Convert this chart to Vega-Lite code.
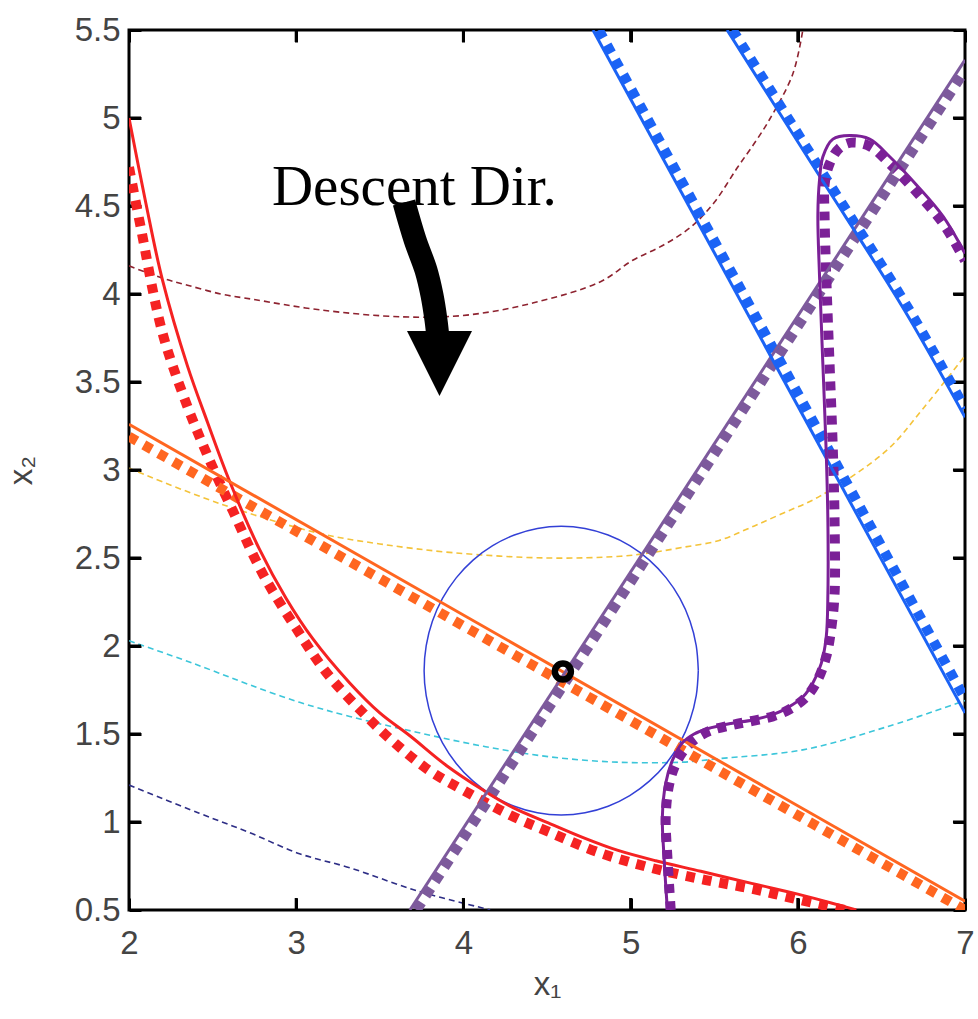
{
  "$schema": "https://vega.github.io/schema/vega-lite/v6.json",
  "width": 836,
  "height": 880,
  "autosize": {"type": "none"},
  "padding": {"left": 129, "top": 30, "right": 13, "bottom": 109},
  "background": "white",
  "datasets": {
    "curves": [
      {"g":"c1","k":"c","i":0,"x":2.0,"y":4.16},{"g":"c1","k":"c","i":1,"x":2.2,"y":4.09},{"g":"c1","k":"c","i":2,"x":2.35,"y":4.05},{"g":"c1","k":"c","i":3,"x":2.55,"y":4.0},{"g":"c1","k":"c","i":4,"x":2.74,"y":3.97},{"g":"c1","k":"c","i":5,"x":3.14,"y":3.91},{"g":"c1","k":"c","i":6,"x":3.64,"y":3.87},{"g":"c1","k":"c","i":7,"x":4.02,"y":3.88},{"g":"c1","k":"c","i":8,"x":4.42,"y":3.95},{"g":"c1","k":"c","i":9,"x":4.82,"y":4.07},{"g":"c1","k":"c","i":10,"x":5.01,"y":4.19},{"g":"c1","k":"c","i":11,"x":5.2,"y":4.28},{"g":"c1","k":"c","i":12,"x":5.36,"y":4.38},{"g":"c1","k":"c","i":13,"x":5.5,"y":4.52},{"g":"c1","k":"c","i":14,"x":5.64,"y":4.72},{"g":"c1","k":"c","i":15,"x":5.75,"y":4.87},{"g":"c1","k":"c","i":16,"x":5.83,"y":4.99},{"g":"c1","k":"c","i":17,"x":5.97,"y":5.25},{"g":"c1","k":"c","i":18,"x":6.03,"y":5.5},
      {"g":"c2","k":"c","i":0,"x":2.0,"y":3.01},{"g":"c2","k":"c","i":1,"x":2.54,"y":2.81},{"g":"c2","k":"c","i":2,"x":3.14,"y":2.64},{"g":"c2","k":"c","i":3,"x":3.5,"y":2.58},{"g":"c2","k":"c","i":4,"x":3.94,"y":2.53},{"g":"c2","k":"c","i":5,"x":4.5,"y":2.5},{"g":"c2","k":"c","i":6,"x":4.94,"y":2.51},{"g":"c2","k":"c","i":7,"x":5.12,"y":2.53},{"g":"c2","k":"c","i":8,"x":5.31,"y":2.56},{"g":"c2","k":"c","i":9,"x":5.53,"y":2.6},{"g":"c2","k":"c","i":10,"x":5.71,"y":2.67},{"g":"c2","k":"c","i":11,"x":5.9,"y":2.75},{"g":"c2","k":"c","i":12,"x":6.13,"y":2.85},{"g":"c2","k":"c","i":13,"x":6.53,"y":3.11},{"g":"c2","k":"c","i":14,"x":6.75,"y":3.35},{"g":"c2","k":"c","i":15,"x":7.0,"y":3.65},
      {"g":"c3","k":"c","i":0,"x":2.0,"y":2.03},{"g":"c3","k":"c","i":1,"x":2.3,"y":1.93},{"g":"c3","k":"c","i":2,"x":2.5,"y":1.86},{"g":"c3","k":"c","i":3,"x":2.72,"y":1.78},{"g":"c3","k":"c","i":4,"x":3.02,"y":1.68},{"g":"c3","k":"c","i":5,"x":3.32,"y":1.6},{"g":"c3","k":"c","i":6,"x":3.72,"y":1.51},{"g":"c3","k":"c","i":7,"x":4.12,"y":1.43},{"g":"c3","k":"c","i":8,"x":4.52,"y":1.37},{"g":"c3","k":"c","i":9,"x":4.92,"y":1.34},{"g":"c3","k":"c","i":10,"x":5.31,"y":1.34},{"g":"c3","k":"c","i":11,"x":5.53,"y":1.36},{"g":"c3","k":"c","i":12,"x":6.03,"y":1.41},{"g":"c3","k":"c","i":13,"x":6.53,"y":1.54},{"g":"c3","k":"c","i":14,"x":7.0,"y":1.69},
      {"g":"c4","k":"c","i":0,"x":2.0,"y":1.21},{"g":"c4","k":"c","i":1,"x":2.42,"y":1.05},{"g":"c4","k":"c","i":2,"x":2.72,"y":0.94},{"g":"c4","k":"c","i":3,"x":3.02,"y":0.82},{"g":"c4","k":"c","i":4,"x":3.32,"y":0.74},{"g":"c4","k":"c","i":5,"x":3.72,"y":0.61},{"g":"c4","k":"c","i":6,"x":4.12,"y":0.51},{"g":"c4","k":"c","i":7,"x":4.16,"y":0.5},
      {"g":"tr","k":"r","i":0,"x":5.405,"y":1.86},{"g":"tr","k":"r","i":1,"x":5.3925,"y":2.0024},{"g":"tr","k":"r","i":2,"x":5.3555,"y":2.1405},{"g":"tr","k":"r","i":3,"x":5.2951,"y":2.27},{"g":"tr","k":"r","i":4,"x":5.2131,"y":2.3871},{"g":"tr","k":"r","i":5,"x":5.1121,"y":2.4881},{"g":"tr","k":"r","i":6,"x":4.995,"y":2.5701},{"g":"tr","k":"r","i":7,"x":4.8655,"y":2.6305},{"g":"tr","k":"r","i":8,"x":4.7274,"y":2.6675},{"g":"tr","k":"r","i":9,"x":4.585,"y":2.68},{"g":"tr","k":"r","i":10,"x":4.4426,"y":2.6675},{"g":"tr","k":"r","i":11,"x":4.3045,"y":2.6305},{"g":"tr","k":"r","i":12,"x":4.175,"y":2.5701},{"g":"tr","k":"r","i":13,"x":4.0579,"y":2.4881},{"g":"tr","k":"r","i":14,"x":3.9569,"y":2.3871},{"g":"tr","k":"r","i":15,"x":3.8749,"y":2.27},{"g":"tr","k":"r","i":16,"x":3.8145,"y":2.1405},{"g":"tr","k":"r","i":17,"x":3.7775,"y":2.0024},{"g":"tr","k":"r","i":18,"x":3.765,"y":1.86},{"g":"tr","k":"r","i":19,"x":3.7775,"y":1.7176},{"g":"tr","k":"r","i":20,"x":3.8145,"y":1.5795},{"g":"tr","k":"r","i":21,"x":3.8749,"y":1.45},{"g":"tr","k":"r","i":22,"x":3.9569,"y":1.3329},{"g":"tr","k":"r","i":23,"x":4.0579,"y":1.2319},{"g":"tr","k":"r","i":24,"x":4.175,"y":1.1499},{"g":"tr","k":"r","i":25,"x":4.3045,"y":1.0895},{"g":"tr","k":"r","i":26,"x":4.4426,"y":1.0525},{"g":"tr","k":"r","i":27,"x":4.585,"y":1.04},{"g":"tr","k":"r","i":28,"x":4.7274,"y":1.0525},{"g":"tr","k":"r","i":29,"x":4.8655,"y":1.0895},{"g":"tr","k":"r","i":30,"x":4.995,"y":1.1499},{"g":"tr","k":"r","i":31,"x":5.1121,"y":1.2319},{"g":"tr","k":"r","i":32,"x":5.2131,"y":1.3329},{"g":"tr","k":"r","i":33,"x":5.2951,"y":1.45},{"g":"tr","k":"r","i":34,"x":5.3555,"y":1.5795},{"g":"tr","k":"r","i":35,"x":5.3925,"y":1.7176},{"g":"tr","k":"r","i":36,"x":5.405,"y":1.86},
      {"g":"g1","k":"a","i":0,"x":2.0,"y":4.72},{"g":"g1","k":"a","i":1,"x":2.07,"y":4.38},{"g":"g1","k":"a","i":2,"x":2.2,"y":3.78},{"g":"g1","k":"a","i":3,"x":2.35,"y":3.36},{"g":"g1","k":"a","i":4,"x":2.48,"y":3.06},{"g":"g1","k":"a","i":5,"x":2.62,"y":2.77},{"g":"g1","k":"a","i":6,"x":2.8,"y":2.41},{"g":"g1","k":"a","i":7,"x":3.0,"y":2.1},{"g":"g1","k":"a","i":8,"x":3.18,"y":1.85},{"g":"g1","k":"a","i":9,"x":3.4,"y":1.62},{"g":"g1","k":"a","i":10,"x":3.6,"y":1.44},{"g":"g1","k":"a","i":11,"x":3.8,"y":1.29},{"g":"g1","k":"a","i":12,"x":4.0,"y":1.18},{"g":"g1","k":"a","i":13,"x":4.3,"y":1.03},{"g":"g1","k":"a","i":14,"x":4.52,"y":0.94},{"g":"g1","k":"a","i":15,"x":4.8,"y":0.83},{"g":"g1","k":"a","i":16,"x":5.12,"y":0.74},{"g":"g1","k":"a","i":17,"x":5.45,"y":0.67},{"g":"g1","k":"a","i":18,"x":5.73,"y":0.62},{"g":"g1","k":"a","i":19,"x":6.0,"y":0.56},{"g":"g1","k":"a","i":20,"x":6.28,"y":0.5},
      {"g":"g2","k":"a","i":0,"x":2.0,"y":3.19},{"g":"g2","k":"a","i":1,"x":7.0,"y":0.5},
      {"g":"g3","k":"a","i":0,"x":3.72,"y":0.5},{"g":"g3","k":"a","i":1,"x":7.0,"y":5.27},
      {"g":"g4","k":"a","i":0,"x":4.81,"y":5.5},{"g":"g4","k":"a","i":1,"x":7.0,"y":1.7},
      {"g":"g5","k":"a","i":0,"x":5.61,"y":5.5},{"g":"g5","k":"a","i":1,"x":6.14,"y":4.7},{"g":"g5","k":"a","i":2,"x":6.66,"y":3.92},{"g":"g5","k":"a","i":3,"x":7.0,"y":3.35},
      {"g":"g6","k":"a","i":0,"x":5.24,"y":0.5},{"g":"g6","k":"a","i":1,"x":5.22,"y":0.8},{"g":"g6","k":"a","i":2,"x":5.21,"y":1.03},{"g":"g6","k":"a","i":3,"x":5.23,"y":1.21},{"g":"g6","k":"a","i":4,"x":5.27,"y":1.33},{"g":"g6","k":"a","i":5,"x":5.33,"y":1.42},{"g":"g6","k":"a","i":6,"x":5.4,"y":1.48},{"g":"g6","k":"a","i":7,"x":5.48,"y":1.52},{"g":"g6","k":"a","i":8,"x":5.6,"y":1.55},{"g":"g6","k":"a","i":9,"x":5.73,"y":1.575},{"g":"g6","k":"a","i":10,"x":5.85,"y":1.6},{"g":"g6","k":"a","i":11,"x":5.95,"y":1.64},{"g":"g6","k":"a","i":12,"x":6.05,"y":1.71},{"g":"g6","k":"a","i":13,"x":6.12,"y":1.81},{"g":"g6","k":"a","i":14,"x":6.17,"y":1.94},{"g":"g6","k":"a","i":15,"x":6.2,"y":2.1},{"g":"g6","k":"a","i":16,"x":6.22,"y":2.3},{"g":"g6","k":"a","i":17,"x":6.22,"y":2.7},{"g":"g6","k":"a","i":18,"x":6.21,"y":3.1},{"g":"g6","k":"a","i":19,"x":6.19,"y":3.6},{"g":"g6","k":"a","i":20,"x":6.17,"y":4.1},{"g":"g6","k":"a","i":21,"x":6.16,"y":4.45},{"g":"g6","k":"a","i":22,"x":6.16,"y":4.62},{"g":"g6","k":"a","i":23,"x":6.19,"y":4.74},{"g":"g6","k":"a","i":24,"x":6.25,"y":4.83},{"g":"g6","k":"a","i":25,"x":6.32,"y":4.86},{"g":"g6","k":"a","i":26,"x":6.43,"y":4.84},{"g":"g6","k":"a","i":27,"x":6.55,"y":4.74},{"g":"g6","k":"a","i":28,"x":6.71,"y":4.58},{"g":"g6","k":"a","i":29,"x":6.87,"y":4.4},{"g":"g6","k":"a","i":30,"x":7.0,"y":4.19},
      {"g":"g1","k":"e","i":0,"x":2.0,"y":5.0},{"g":"g1","k":"e","i":1,"x":2.1,"y":4.52},{"g":"g1","k":"e","i":2,"x":2.2,"y":4.08},{"g":"g1","k":"e","i":3,"x":2.35,"y":3.59},{"g":"g1","k":"e","i":4,"x":2.47,"y":3.27},{"g":"g1","k":"e","i":5,"x":2.6,"y":2.94},{"g":"g1","k":"e","i":6,"x":2.78,"y":2.55},{"g":"g1","k":"e","i":7,"x":2.94,"y":2.27},{"g":"g1","k":"e","i":8,"x":3.1,"y":2.04},{"g":"g1","k":"e","i":9,"x":3.32,"y":1.79},{"g":"g1","k":"e","i":10,"x":3.5,"y":1.62},{"g":"g1","k":"e","i":11,"x":3.68,"y":1.49},{"g":"g1","k":"e","i":12,"x":3.9,"y":1.32},{"g":"g1","k":"e","i":13,"x":4.12,"y":1.18},{"g":"g1","k":"e","i":14,"x":4.3,"y":1.08},{"g":"g1","k":"e","i":15,"x":4.52,"y":0.99},{"g":"g1","k":"e","i":16,"x":4.72,"y":0.91},{"g":"g1","k":"e","i":17,"x":4.92,"y":0.84},{"g":"g1","k":"e","i":18,"x":5.15,"y":0.78},{"g":"g1","k":"e","i":19,"x":5.42,"y":0.72},{"g":"g1","k":"e","i":20,"x":5.73,"y":0.65},{"g":"g1","k":"e","i":21,"x":6.0,"y":0.59},{"g":"g1","k":"e","i":22,"x":6.2,"y":0.54},{"g":"g1","k":"e","i":23,"x":6.35,"y":0.5},
      {"g":"g2","k":"e","i":0,"x":2.0,"y":3.26},{"g":"g2","k":"e","i":1,"x":7.0,"y":0.55},
      {"g":"g3","k":"e","i":0,"x":3.68,"y":0.5},{"g":"g3","k":"e","i":1,"x":7.0,"y":5.33},
      {"g":"g4","k":"e","i":0,"x":4.775,"y":5.5},{"g":"g4","k":"e","i":1,"x":7.0,"y":1.62},
      {"g":"g5","k":"e","i":0,"x":5.577,"y":5.5},{"g":"g5","k":"e","i":1,"x":6.11,"y":4.7},{"g":"g5","k":"e","i":2,"x":6.63,"y":3.92},{"g":"g5","k":"e","i":3,"x":7.0,"y":3.3},
      {"g":"g6","k":"e","i":0,"x":5.22,"y":0.5},{"g":"g6","k":"e","i":1,"x":5.2,"y":0.8},{"g":"g6","k":"e","i":2,"x":5.19,"y":1.03},{"g":"g6","k":"e","i":3,"x":5.21,"y":1.22},{"g":"g6","k":"e","i":4,"x":5.25,"y":1.35},{"g":"g6","k":"e","i":5,"x":5.31,"y":1.45},{"g":"g6","k":"e","i":6,"x":5.38,"y":1.5},{"g":"g6","k":"e","i":7,"x":5.46,"y":1.53},{"g":"g6","k":"e","i":8,"x":5.6,"y":1.56},{"g":"g6","k":"e","i":9,"x":5.73,"y":1.58},{"g":"g6","k":"e","i":10,"x":5.85,"y":1.61},{"g":"g6","k":"e","i":11,"x":5.94,"y":1.65},{"g":"g6","k":"e","i":12,"x":6.03,"y":1.71},{"g":"g6","k":"e","i":13,"x":6.09,"y":1.79},{"g":"g6","k":"e","i":14,"x":6.14,"y":1.9},{"g":"g6","k":"e","i":15,"x":6.17,"y":2.05},{"g":"g6","k":"e","i":16,"x":6.18,"y":2.3},{"g":"g6","k":"e","i":17,"x":6.18,"y":2.7},{"g":"g6","k":"e","i":18,"x":6.17,"y":3.1},{"g":"g6","k":"e","i":19,"x":6.15,"y":3.6},{"g":"g6","k":"e","i":20,"x":6.13,"y":4.1},{"g":"g6","k":"e","i":21,"x":6.12,"y":4.45},{"g":"g6","k":"e","i":22,"x":6.13,"y":4.65},{"g":"g6","k":"e","i":23,"x":6.15,"y":4.78},{"g":"g6","k":"e","i":24,"x":6.21,"y":4.88},{"g":"g6","k":"e","i":25,"x":6.31,"y":4.9},{"g":"g6","k":"e","i":26,"x":6.43,"y":4.88},{"g":"g6","k":"e","i":27,"x":6.55,"y":4.78},{"g":"g6","k":"e","i":28,"x":6.71,"y":4.62},{"g":"g6","k":"e","i":29,"x":6.87,"y":4.44},{"g":"g6","k":"e","i":30,"x":7.0,"y":4.23}
    ],
    "shaft": [
      {"i":0,"x":3.645,"y":4.52},{"i":1,"x":3.711,"y":4.307},{"i":2,"x":3.776,"y":4.136},{"i":3,"x":3.812,"y":3.994},{"i":4,"x":3.836,"y":3.852},{"i":5,"x":3.848,"y":3.75}
    ],
    "head": [{"x":3.857,"y":3.605}],
    "label": [{"x":2.855,"y":4.506,"text":"Descent Dir."}],
    "iterate": [{"x":4.595,"y":1.855}],
    "xticks": [{"v":3},{"v":4},{"v":5},{"v":6}],
    "yticks": [{"v":1},{"v":1.5},{"v":2},{"v":2.5},{"v":3},{"v":3.5},{"v":4},{"v":4.5},{"v":5}]
  },
  "layer": [
    {
      "data": {"name": "curves"},
      "transform": [{"filter": "datum.k === 'c'"}],
      "mark": {"type": "line", "strokeWidth": 1.6, "strokeDash": [6, 4], "interpolate": "catmull-rom", "clip": true},
      "encoding": {
        "x": {"field": "x", "type": "quantitative", "scale": {"domain": [2, 7], "nice": false, "zero": false},
          "axis": {"orient": "bottom", "values": [2, 3, 4, 5, 6, 7], "ticks": true, "tickColor": "#000", "tickSize": -12, "labelPadding": 29, "labelFlush": false, "title": "x₁", "titlePadding": 8}},
        "y": {"field": "y", "type": "quantitative", "scale": {"domain": [0.5, 5.5], "nice": false, "zero": false},
          "axis": {"orient": "left", "values": [0.5, 1, 1.5, 2, 2.5, 3, 3.5, 4, 4.5, 5, 5.5], "format": "~g", "ticks": true, "tickColor": "#000", "tickSize": -12, "labelPadding": 21, "labelFlush": false, "title": "x₂", "titlePadding": 36}},
        "color": {"field": "g", "type": "nominal", "legend": null,
          "scale": {"domain": ["c1", "c2", "c3", "c4", "tr", "g1", "g2", "g3", "g4", "g5", "g6"],
                    "range": ["#8e2330", "#f4c33a", "#3cc6da", "#2e2e86", "#3340d6", "#f52222", "#ff6620", "#7d5a9c", "#1b63f5", "#1b63f5", "#7b2097"]}},
        "order": {"field": "i", "type": "quantitative"}
      }
    },
    {
      "data": {"name": "curves"},
      "transform": [{"filter": "datum.k === 'r'"}],
      "mark": {"type": "line", "strokeWidth": 1.5, "interpolate": "catmull-rom", "clip": true},
      "encoding": {
        "x": {"field": "x", "type": "quantitative", "scale": {"domain": [2, 7], "nice": false, "zero": false},
          "axis": {"orient": "top", "values": [2, 3, 4, 5, 6, 7], "ticks": true, "tickColor": "#000", "tickSize": -12, "labels": false, "title": null}},
        "y": {"field": "y", "type": "quantitative", "scale": {"domain": [0.5, 5.5], "nice": false, "zero": false},
          "axis": {"orient": "right", "values": [0.5, 1, 1.5, 2, 2.5, 3, 3.5, 4, 4.5, 5, 5.5], "ticks": true, "tickColor": "#000", "tickSize": -12, "labels": false, "title": null}},
        "color": {"field": "g", "type": "nominal", "legend": null},
        "order": {"field": "i", "type": "quantitative"}
      }
    },
    {
      "data": {"name": "xticks"},
      "mark": {"type": "rule", "color": "#000", "strokeWidth": 3},
      "encoding": {
        "x": {"field": "v", "type": "quantitative", "scale": {"domain": [2, 7], "nice": false, "zero": false}, "axis": null},
        "y": {"datum": 0.5, "type": "quantitative", "scale": {"domain": [0.5, 5.5], "nice": false, "zero": false}, "axis": null},
        "y2": {"datum": 0.568}
      }
    },
    {
      "data": {"name": "xticks"},
      "mark": {"type": "rule", "color": "#000", "strokeWidth": 3},
      "encoding": {
        "x": {"field": "v", "type": "quantitative", "scale": {"domain": [2, 7], "nice": false, "zero": false}, "axis": null},
        "y": {"datum": 5.5, "type": "quantitative", "scale": {"domain": [0.5, 5.5], "nice": false, "zero": false}, "axis": null},
        "y2": {"datum": 5.432}
      }
    },
    {
      "data": {"name": "yticks"},
      "mark": {"type": "rule", "color": "#000", "strokeWidth": 3},
      "encoding": {
        "y": {"field": "v", "type": "quantitative", "scale": {"domain": [0.5, 5.5], "nice": false, "zero": false}, "axis": null},
        "x": {"datum": 2, "type": "quantitative", "scale": {"domain": [2, 7], "nice": false, "zero": false}, "axis": null},
        "x2": {"datum": 2.072}
      }
    },
    {
      "data": {"name": "yticks"},
      "mark": {"type": "rule", "color": "#000", "strokeWidth": 3},
      "encoding": {
        "y": {"field": "v", "type": "quantitative", "scale": {"domain": [0.5, 5.5], "nice": false, "zero": false}, "axis": null},
        "x": {"datum": 7, "type": "quantitative", "scale": {"domain": [2, 7], "nice": false, "zero": false}, "axis": null},
        "x2": {"datum": 6.928}
      }
    },
    {
      "data": {"name": "curves"},
      "transform": [{"filter": "datum.k === 'a'"}],
      "mark": {"type": "line", "strokeWidth": 10, "strokeDash": [9, 8], "strokeCap": "butt", "interpolate": "catmull-rom", "clip": true},
      "encoding": {
        "x": {"field": "x", "type": "quantitative", "scale": {"domain": [2, 7], "nice": false, "zero": false}, "axis": null},
        "y": {"field": "y", "type": "quantitative", "scale": {"domain": [0.5, 5.5], "nice": false, "zero": false}, "axis": null},
        "color": {"field": "g", "type": "nominal", "legend": null},
        "order": {"field": "i", "type": "quantitative"}
      }
    },
    {
      "data": {"name": "curves"},
      "transform": [{"filter": "datum.k === 'e'"}],
      "mark": {"type": "line", "strokeWidth": 3, "interpolate": "catmull-rom", "clip": true},
      "encoding": {
        "x": {"field": "x", "type": "quantitative", "scale": {"domain": [2, 7], "nice": false, "zero": false}, "axis": null},
        "y": {"field": "y", "type": "quantitative", "scale": {"domain": [0.5, 5.5], "nice": false, "zero": false}, "axis": null},
        "color": {"field": "g", "type": "nominal", "legend": null},
        "order": {"field": "i", "type": "quantitative"}
      }
    },
    {
      "data": {"name": "iterate"},
      "mark": {"type": "point", "shape": "circle", "size": 256, "strokeWidth": 6.5, "filled": false, "color": "#000", "opacity": 1},
      "encoding": {
        "x": {"field": "x", "type": "quantitative", "scale": {"domain": [2, 7], "nice": false, "zero": false}, "axis": null},
        "y": {"field": "y", "type": "quantitative", "scale": {"domain": [0.5, 5.5], "nice": false, "zero": false}, "axis": null}
      }
    },
    {
      "data": {"name": "shaft"},
      "mark": {"type": "line", "strokeWidth": 23, "strokeCap": "butt", "strokeJoin": "round", "interpolate": "catmull-rom", "color": "#000"},
      "encoding": {
        "x": {"field": "x", "type": "quantitative", "scale": {"domain": [2, 7], "nice": false, "zero": false}, "axis": null},
        "y": {"field": "y", "type": "quantitative", "scale": {"domain": [0.5, 5.5], "nice": false, "zero": false}, "axis": null},
        "order": {"field": "i", "type": "quantitative"}
      }
    },
    {
      "data": {"name": "head"},
      "mark": {"type": "point", "shape": "M-1,-1L1,-1L0,1Z", "size": 4225, "filled": true, "color": "#000", "opacity": 1, "strokeWidth": 0},
      "encoding": {
        "x": {"field": "x", "type": "quantitative", "scale": {"domain": [2, 7], "nice": false, "zero": false}, "axis": null},
        "y": {"field": "y", "type": "quantitative", "scale": {"domain": [0.5, 5.5], "nice": false, "zero": false}, "axis": null}
      }
    },
    {
      "data": {"name": "label"},
      "mark": {"type": "text", "font": "Liberation Serif", "fontSize": 57, "align": "left", "baseline": "alphabetic", "color": "#000"},
      "encoding": {
        "x": {"field": "x", "type": "quantitative", "scale": {"domain": [2, 7], "nice": false, "zero": false}, "axis": null},
        "y": {"field": "y", "type": "quantitative", "scale": {"domain": [0.5, 5.5], "nice": false, "zero": false}, "axis": null},
        "text": {"field": "text"}
      }
    }
  ],
  "resolve": {"axis": {"x": "independent", "y": "independent"}},
  "config": {
    "view": {"stroke": "#000", "strokeWidth": 3},
    "axis": {
      "grid": false,
      "domain": false,
      "tickWidth": 3,
      "labelFont": "Liberation Sans",
      "labelFontSize": 33,
      "labelColor": "#444",
      "titleFont": "Liberation Sans",
      "titleFontSize": 33,
      "titleFontWeight": "normal",
      "titleColor": "#444"
    }
  }
}
